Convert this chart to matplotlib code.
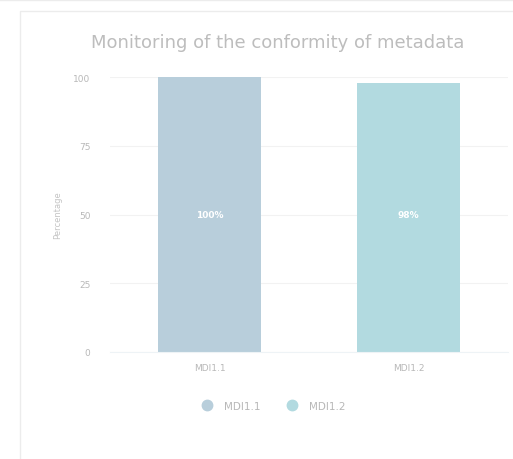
import matplotlib.pyplot as plt
from matplotlib.patches import Rectangle
from matplotlib.lines import Line2D

categories = ["MDI1.1", "MDI1.2"]
values = [100, 98]
labels = ["100%", "98%"]
colors = ["#b8cedb", "#b2dae0"]
yticks = [0, 25, 50, 75, 100]

fig = plt.figure(figsize=(5.13, 4.6), dpi=100)

# panel frame
fig.patches.append(Rectangle((20 / 513, -0.1), 1.2, (448 / 460) + 0.1,
                             transform=fig.transFigure, fill=False,
                             edgecolor="#ececec", linewidth=1))
fig.add_artist(Line2D([0, 1], [0.998, 0.998], transform=fig.transFigure,
                      color="#ececec", linewidth=1))

ax = fig.add_axes([110 / 513, 1 - 353 / 460, 398 / 513, 275 / 460])
x = range(len(categories))
ax.bar(x, values, width=0.52, color=colors, zorder=2)
for i, (v, lab) in enumerate(zip(values, labels)):
    ax.text(i, 50, lab, ha="center", va="center", color="white",
            fontsize=6.5, fontweight="bold", zorder=3)

ax.set_xlim(-0.5, 1.5)
ax.set_ylim(0, 100)
ax.set_yticks(yticks)
ax.set_yticklabels([str(t) for t in yticks])
ax.set_xticks(list(x))
ax.set_xticklabels(categories)
ax.grid(axis="y", color="#f2f2f2", linewidth=0.8, zorder=0)
for s in ["top", "right", "left"]:
    ax.spines[s].set_visible(False)
ax.spines["bottom"].set_color("#eef3f6")
ax.tick_params(axis="both", length=0, labelsize=6.5, labelcolor="#b8b8b8")
ax.tick_params(axis="y", pad=14)
ax.tick_params(axis="x", pad=8)
ax.set_ylabel("Percentage", fontsize=6, color="#c4c4c4", labelpad=8)

fig.text(278 / 513, 1 - 43 / 460, "Monitoring of the conformity of metadata",
         ha="center", va="center", fontsize=13, color="#bdbdbd")

handles = [Line2D([], [], marker="o", linestyle="", markersize=7.5,
                  markerfacecolor=c, markeredgecolor=c) for c in colors]
fig.legend(handles, categories, loc="center", bbox_to_anchor=(271 / 513, 1 - 407 / 460),
           ncol=2, frameon=False, fontsize=7.5, labelcolor="#b8b8b8",
           handletextpad=0.6, columnspacing=2.0)

fig.savefig("out.png", dpi=100)
